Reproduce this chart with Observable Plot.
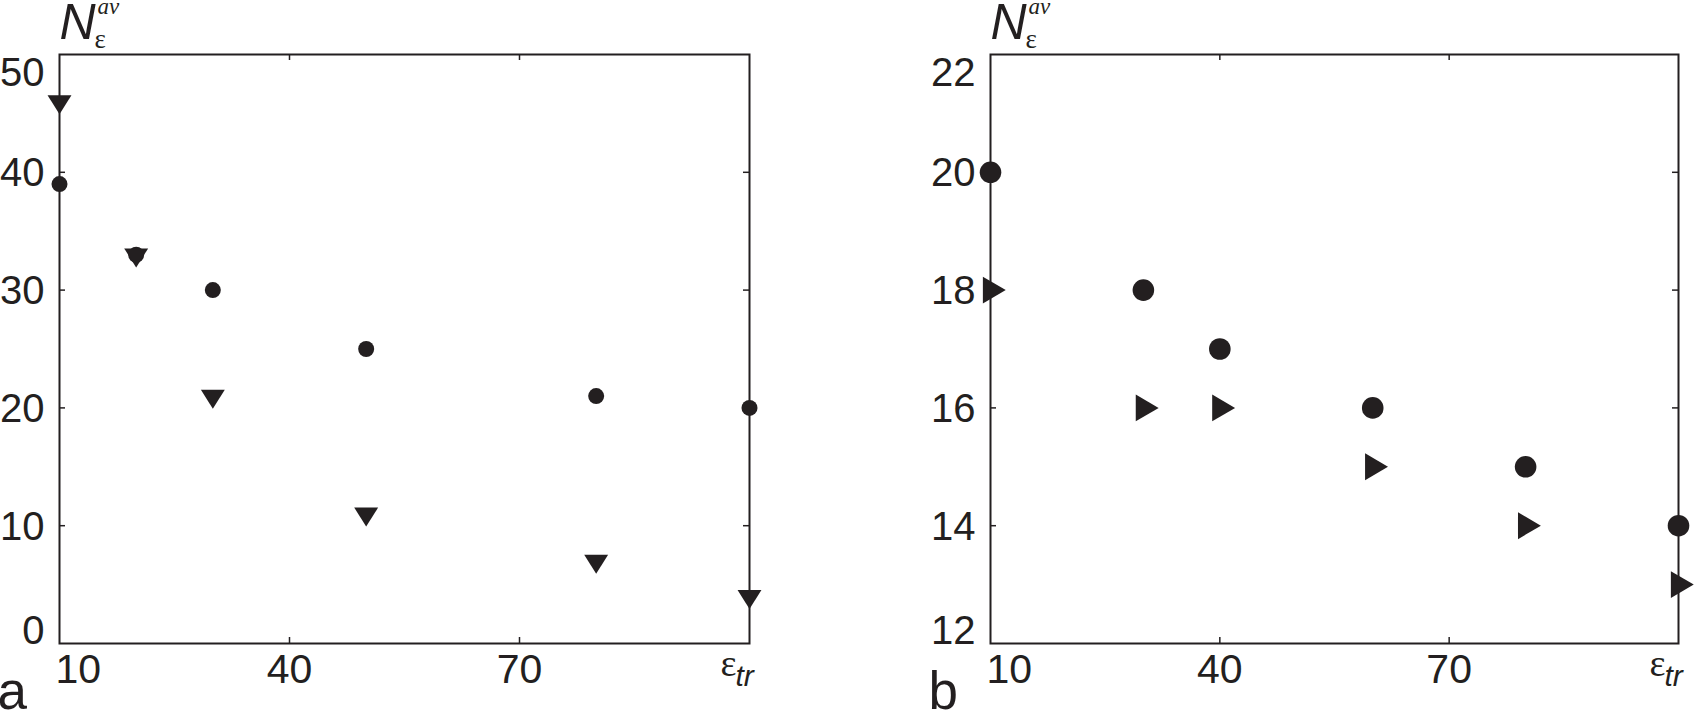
<!DOCTYPE html>
<html><head><meta charset="utf-8">
<script src="https://cdn.jsdelivr.net/npm/d3@7"></script>
<script src="https://cdn.jsdelivr.net/npm/@observablehq/plot@0.6"></script>
<style>
html,body{margin:0;padding:0;background:#fff;}
#wrap{display:flex;width:1694px;height:711px;overflow:hidden;}
#wrap svg{overflow:visible;display:block;}
</style></head><body><div id="wrap"></div>
<script>
// ---- data ----
const aX = [10, 20, 30, 50, 80, 100];
const aCircles = [39, 33, 30, 25, 21, 20];
const aTriangles = [46, 33, 21, 11, 7, 4];
const bX = [10, 30, 40, 60, 80, 100];
const bCircles = [20, 18, 17, 16, 15, 14];
const bTriangles = [18, 16, 16, 15, 14, 13];
const xTicks = [10, 40, 70, 100];
const xTickLabels = ["10", "40", "70"];
const aYTicks = [0, 10, 20, 30, 40, 50];
const bYTicks = [12, 14, 16, 18, 20, 22];
const panelLetters = ["a", "b"];

const INK = "#231f20";
const SANS = "'Liberation Sans', Arial, sans-serif";
const SERIF = "'Liberation Serif', 'Times New Roman', serif";

const triDown = { draw(ctx, size) { const k = 1.26; const h = Math.sqrt(2 * size / k), w = k * h;
  ctx.moveTo(-w / 2, -h / 3); ctx.lineTo(w / 2, -h / 3); ctx.lineTo(0, 2 * h / 3); ctx.closePath(); } };
const triRight = { draw(ctx, size) { const k = 27 / 23; const L = Math.sqrt(2 * size / k), H = L * k;
  ctx.moveTo(-L / 3, -H / 2); ctx.lineTo(2 * L / 3, 0); ctx.lineTo(-L / 3, H / 2); ctx.closePath(); } };

function panel({xs, circles, tris, yTicks, marginLeft, marginRight, circleR, triSymbol, triR, letter}) {
  const W = 847, H = 711, mt = 54, mb = 68;
  const ph = H - mt - mb, pw = W - marginLeft - marginRight;
  const circ = xs.map((x, i) => ({x, y: circles[i]}));
  const tri = xs.map((x, i) => ({x, y: tris[i]}));
  const innerY = yTicks.slice(1, -1);
  const innerX = xTicks.slice(1, -1);
  const xLabels = xTicks.slice(0, 3).map((x, i) => ({x, t: xTickLabels[i]}));
  const yLab = {frameAnchor: "left", textAnchor: "end", dx: -15, fontSize: 40, fill: INK, text: d => String(d), y: d => d};
  return Plot.plot({
    width: W, height: H, marginTop: mt, marginBottom: mb, marginLeft, marginRight,
    x: {domain: [xTicks[0], xTicks[xTicks.length - 1]], axis: null},
    y: {domain: [yTicks[0], yTicks[yTicks.length - 1]], axis: null},
    style: {fontFamily: SANS, color: INK, background: "white", overflow: "visible"},
    marks: [
      Plot.tickX(innerX, {x: d => d, stroke: INK, strokeWidth: 1.5, insetTop: ph - 6}),
      Plot.tickX(innerX, {x: d => d, stroke: INK, strokeWidth: 1.5, insetBottom: ph - 6}),
      Plot.tickY(innerY, {y: d => d, stroke: INK, strokeWidth: 1.5, insetRight: pw - 6}),
      Plot.tickY(innerY, {y: d => d, stroke: INK, strokeWidth: 1.5, insetLeft: pw - 6}),
      Plot.frame({stroke: INK, strokeWidth: 2}),
      Plot.text(innerY, {...yLab, lineAnchor: "middle", dy: 1}),
      Plot.text(yTicks.slice(0, 1), {...yLab, lineAnchor: "bottom", dy: 0}),
      Plot.text(yTicks.slice(-1), {...yLab, lineAnchor: "top", dy: 3}),
      Plot.text(xLabels.slice(0, 1), {x: "x", text: "t", frameAnchor: "bottom", textAnchor: "start", lineAnchor: "top", dx: -4, dy: 10, fontSize: 41, fill: INK}),
      Plot.text(xLabels.slice(1), {x: "x", text: "t", frameAnchor: "bottom", textAnchor: "middle", lineAnchor: "top", dy: 10, fontSize: 41, fill: INK}),
      Plot.text([xTicks[3]], {x: d => d, text: () => "ε", frameAnchor: "bottom", textAnchor: "end", lineAnchor: "bottom", dx: -13, dy: 32, fontSize: 38, fontFamily: SERIF, fill: INK}),
      Plot.text([xTicks[3]], {x: d => d, text: () => "tr", frameAnchor: "bottom", textAnchor: "start", lineAnchor: "bottom", dx: -14, dy: 42, fontSize: 30, fontStyle: "italic", fill: INK}),
      Plot.text(["N"], {text: d => d, frameAnchor: "top-left", textAnchor: "start", lineAnchor: "bottom", dx: 0, dy: -16, fontSize: 50, fontStyle: "italic", fill: INK}),
      Plot.text(["ε"], {text: d => d, frameAnchor: "top-left", textAnchor: "start", lineAnchor: "bottom", dx: 35, dy: -7, fontSize: 27, fontFamily: SERIF, fill: INK}),
      Plot.text(["av"], {text: d => d, frameAnchor: "top-left", textAnchor: "start", lineAnchor: "bottom", dx: 38, dy: -41, fontSize: 23, fontStyle: "italic", fontFamily: SERIF, fill: INK}),
      Plot.text([letter], {text: d => d, frameAnchor: "bottom-left", textAnchor: "start", lineAnchor: "bottom", dx: -62, dy: 65, fontSize: 53, fill: INK}),
      Plot.dot(circ, {x: "x", y: "y", r: circleR, fill: INK, symbol: "circle"}),
      Plot.dot(tri, {x: "x", y: "y", r: triR, fill: INK, symbol: triSymbol})
    ]
  });
}

const wrap = document.getElementById("wrap");
wrap.appendChild(panel({xs: aX, circles: aCircles, tris: aTriangles, yTicks: aYTicks,
  marginLeft: 59, marginRight: 98, circleR: 8, triSymbol: triDown, triR: 8.5, letter: panelLetters[0]}));
wrap.appendChild(panel({xs: bX, circles: bCircles, tris: bTriangles, yTicks: bYTicks,
  marginLeft: 143, marginRight: 16, circleR: 10.8, triSymbol: triRight, triR: 9.9, letter: panelLetters[1]}));
</script>
</body></html>
